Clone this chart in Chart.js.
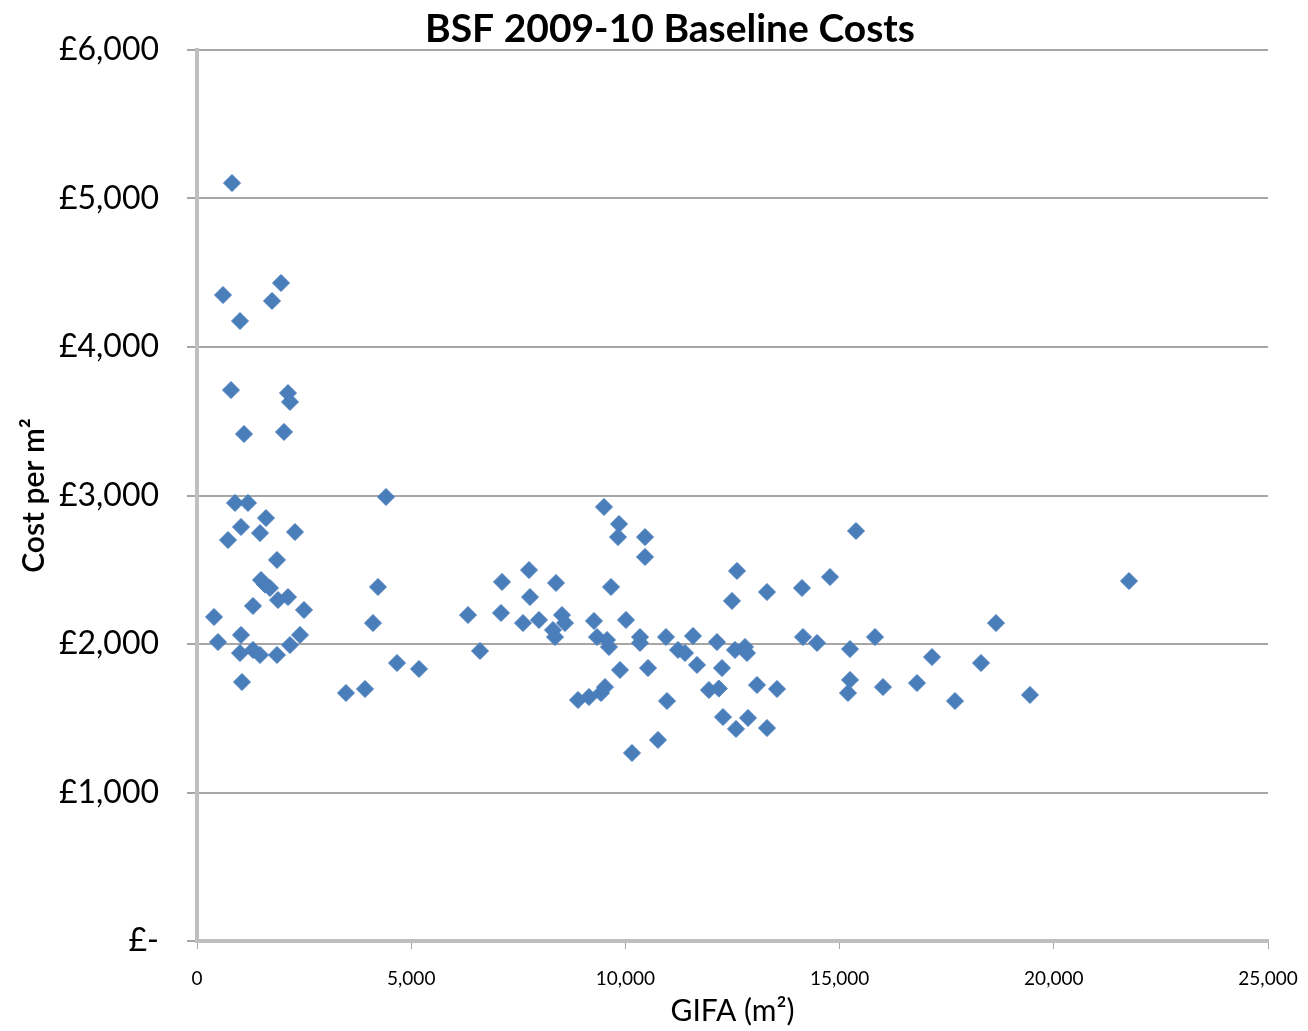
<!DOCTYPE html>
<html>
<head>
<meta charset="utf-8">
<title>BSF 2009-10 Baseline Costs</title>
<script src="https://cdn.jsdelivr.net/npm/chart.js@4/dist/chart.umd.min.js"></script>
<style>
  html, body { margin: 0; padding: 0; background: #fff; }
  #wrap { width: 1308px; height: 1031px; }
</style>
</head>
<body>
<div id="wrap"><canvas id="myChart"></canvas></div>
<script>
// GIFA (m2) and cost per m2
const gifa = [
  817, 607, 1004, 1961, 1751, 794, 2124, 2171, 1097, 2031,
  887, 1190, 1027, 724, 1611, 1471, 2288, 1867, 1494, 1587,
  1704, 1891, 2124, 1307, 2498, 397, 490, 1027, 1004, 1307,
  1471, 1867, 2171, 2404, 1050,
  4412, 4225, 4108, 4669, 5182, 3478, 3922, 6326, 6606, 7120,
  7096, 7750, 7773, 8380, 7610, 7983, 8520, 8590, 8310, 8357,
  9500, 9851, 9827, 10458, 10458, 9664, 9267, 9337, 9571, 9617,
  10014, 10341, 10341, 9874, 10528, 8894, 9150, 9431, 9524, 10971,
  10154, 10761, 10948, 11578, 11228, 11391, 11671, 12138, 12255, 12558,
  12792, 12838, 11950, 12180, 13072, 13539, 12278, 12582, 12862, 13305,
  12605, 12488, 13305, 14122, 14776, 15383, 14146, 14473, 15243, 15827,
  17157, 18301, 18651, 15243, 15196, 16013, 16807, 17694, 19444, 21755
];
const costPerM2 = [
  5104, 4350, 4175, 4431, 4310, 3710, 3690, 3630, 3414, 3428,
  2950, 2950, 2788, 2700, 2848, 2747, 2754, 2566, 2431, 2400,
  2377, 2296, 2316, 2256, 2229, 2182, 2013, 2061, 1939, 1960,
  1926, 1926, 1993, 2061, 1744,
  2990, 2384, 2141, 1872, 1832, 1670, 1697, 2195, 1953, 2418,
  2209, 2498, 2316, 2411, 2141, 2162, 2195, 2141, 2094, 2047,
  2923, 2808, 2720, 2720, 2586, 2384, 2155, 2047, 2027, 1980,
  2162, 2047, 2007, 1825, 1838, 1623, 1643, 1670, 1710, 1616,
  1266, 1354, 2047, 2054, 1960, 1939, 1859, 2013, 1838, 1960,
  1980, 1939, 1690, 1700, 1724, 1697, 1508, 1428, 1502, 1434,
  2492, 2290, 2350, 2377, 2451, 2761, 2047, 2007, 1966, 2047,
  1912, 1872, 2141, 1758, 1670, 1710, 1737, 1616, 1657, 2424
];

const xTicks = [0, 5000, 10000, 15000, 20000, 25000];
const yTicks = [0, 1000, 2000, 3000, 4000, 5000, 6000];

const points = gifa.map((g, i) => ({ x: g, y: costPerM2[i] }));

const fontName = "Lato, 'Open Sans', sans-serif";

// title drawn at a fixed spot, like the original
const titlePlugin = {
  id: 'fixedTitle',
  afterDraw(chart) {
    const ctx = chart.ctx;
    ctx.save();
    ctx.fillStyle = '#000';
    ctx.font = "bold 39px " + fontName;
    ctx.textAlign = 'center';
    ctx.textBaseline = 'middle';
    ctx.fillText('BSF 2009-10 Baseline Costs', 670, 29);
    ctx.restore();
  }
};

const ctx = document.getElementById('myChart');
const myChart = new Chart(ctx, {
  type: 'scatter',
  data: {
    datasets: [{
      label: 'Cost per m²',
      data: points,
      pointStyle: 'rectRot',
      pointRadius: 8.5,
      pointHoverRadius: 8.5,
      backgroundColor: '#4a7ebb',
      borderColor: '#4a7ebb',
      borderWidth: 1
    }]
  },
  options: {
    responsive: true,
    maintainAspectRatio: false,
    animation: false,
    layout: { padding: { top: 50, right: 40, bottom: 0, left: 0 } },
    plugins: {
      legend: { display: false },
      tooltip: { enabled: false }
    },
    scales: {
      x: {
        type: 'linear',
        min: 0,
        max: 25000,
        afterBuildTicks: s => { s.ticks = xTicks.map(v => ({ value: v })); },
        afterFit: s => { s.height = 90; s.paddingLeft = 0; s.paddingRight = 0; },
        ticks: {
          color: '#000',
          padding: 18,
          maxRotation: 0,
          font: { family: fontName, size: 19 },
          callback: v => v.toLocaleString('en-GB')
        },
        grid: { drawOnChartArea: false, drawTicks: true, tickLength: 8, color: '#a6a6a6', tickColor: '#a6a6a6' },
        border: { color: '#bfbfbf', width: 4 },
        title: {
          display: true,
          text: 'GIFA (m²)',
          color: '#000',
          font: { family: fontName, size: 30 },
          padding: { top: 0, bottom: 2 }
        }
      },
      y: {
        type: 'linear',
        min: 0,
        max: 6000,
        afterBuildTicks: s => { s.ticks = yTicks.map(v => ({ value: v })); },
        afterFit: s => { s.width = 197; },
        ticks: {
          color: '#000',
          padding: 28,
          font: { family: fontName, size: 32 },
          callback: v => v === 0 ? '£-' : '£' + v.toLocaleString('en-GB')
        },
        grid: { color: '#a6a6a6', lineWidth: 2, tickLength: 10, tickColor: '#a6a6a6' },
        border: { color: '#bfbfbf', width: 4 },
        title: {
          display: true,
          text: 'Cost per m²',
          color: '#000',
          font: { family: fontName, size: 30, weight: '600' },
          padding: { top: 16, bottom: 0 }
        }
      }
    }
  },
  plugins: [titlePlugin]
});
</script>
</body>
</html>
